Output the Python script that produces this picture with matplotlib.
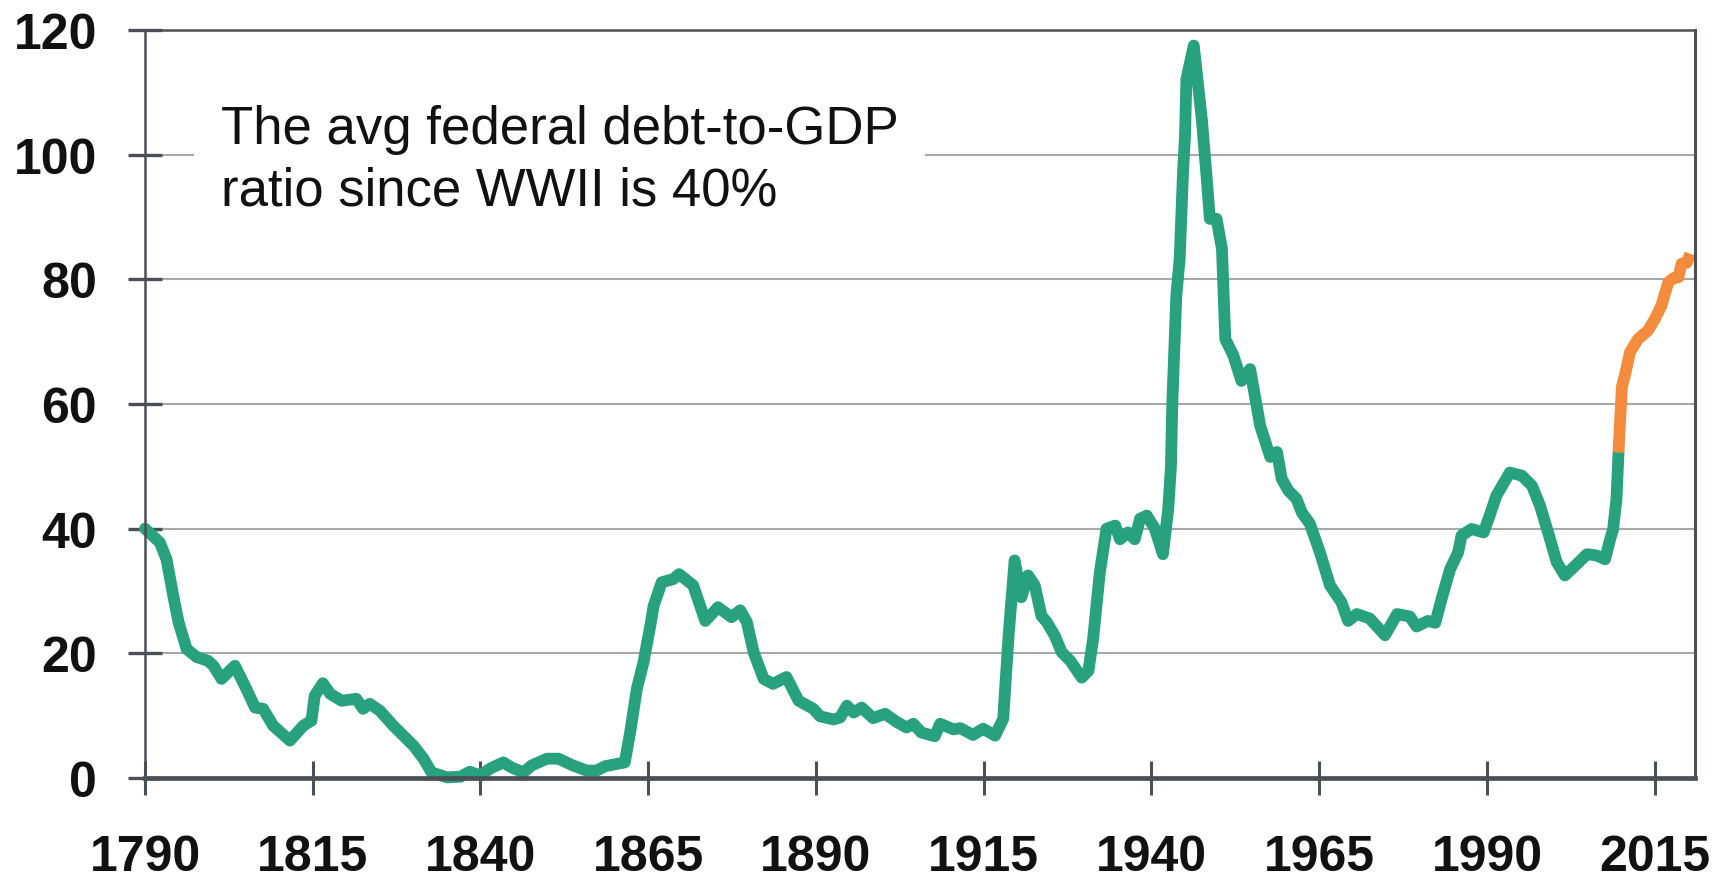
import matplotlib
matplotlib.use("Agg")
import matplotlib.pyplot as plt

plt.rcParams['font.family'] = ['Liberation Sans', 'DejaVu Sans']

# Historical federal debt-to-GDP (%)
hist_years = [1790, 1792.2, 1793.2, 1794.2, 1795, 1796.2, 1797.7, 1799.4, 1800.2, 1801.4,
              1803.4, 1805.1, 1806.4, 1807.6, 1809.1, 1811.6, 1813.6, 1814.8, 1815.3, 1816.5,
              1817.6, 1819.3, 1821.5, 1822.5, 1823.5, 1825, 1827, 1828.5, 1830, 1831.5,
              1832.7, 1835, 1837, 1838.4, 1840, 1841.4, 1843.4, 1844.6, 1846.4, 1847.6,
              1849.9, 1851.6, 1853.8, 1855.8, 1857.3, 1858.6, 1861.5, 1862.3, 1863.3, 1864.3,
              1865.3, 1865.8, 1867, 1868.7, 1869.6, 1871.7, 1873.5, 1875.4, 1877.4, 1878.7,
              1879.7, 1880.7, 1882.2, 1883.6, 1885.6, 1887.4, 1889.6, 1890.6, 1892.6, 1893.6,
              1894.6, 1895.6, 1896.8, 1898.5, 1900.3, 1902, 1903.5, 1904.5, 1905.7, 1907.7,
              1908.5, 1910.5, 1911.5, 1913.4, 1914.9, 1916.7, 1917.9, 1918.7, 1919.6, 1920.6,
              1921.6, 1922.6, 1923.6, 1924.4, 1925.6, 1926.6, 1927.9, 1929.6, 1930.6, 1931.3,
              1932.3, 1933.3, 1934.6, 1935.3, 1936.5, 1937.5, 1938.3, 1939.3, 1940.5, 1941.7,
              1942.5, 1942.9, 1943.1, 1943.7, 1944.2, 1944.7, 1945.0, 1945.2, 1946.3, 1947.5,
              1948.2, 1948.7, 1949.7, 1950.5, 1951, 1952.2, 1953.4, 1954.7, 1956.2, 1957.7,
              1958.7, 1959.4, 1960.4, 1961.6, 1962.4, 1963.6, 1965.1, 1966.6, 1968.3, 1969.3,
              1970.6, 1972.5, 1974.8, 1976.6, 1978.5, 1979.5, 1981.2, 1982.3, 1983.2, 1984.5,
              1985.7, 1986.2, 1987.7, 1989.5, 1990.4, 1991.4, 1993.4, 1995.2, 1996.7, 1997.9,
              1999.1, 2000.4, 2001.6, 2002.9, 2004.9, 2006.3, 2007.6, 2008.3, 2008.8, 2009.3,
              2009.6]
hist_values = [40, 37.8, 35.1, 29.3, 25, 20.7, 19.4, 18.8, 18, 15.9,
               18, 14.3, 11.3, 11.1, 8.4, 6.0, 8.4, 9.2, 13.2, 15.2,
               13.5, 12.4, 12.7, 11.1, 11.9, 10.8, 8.4, 6.8, 5.2, 3.1,
               0.9, 0.1, 0.2, 1.0, 0.4, 1.5, 2.5, 1.7, 0.9, 2.0,
               3.1, 3.1, 2.0, 1.2, 1.2, 1.9, 2.5, 7.3, 14.3, 18.6,
               24.4, 27.6, 31.4, 31.9, 32.7, 30.9, 25.2, 27.4, 25.8, 26.9,
               25.0, 20.2, 15.9, 15.1, 16.2, 12.4, 11.1, 9.9, 9.4, 9.7,
               11.6, 10.5, 11.3, 9.6, 10.3, 9.0, 8.1, 8.7, 7.3, 6.7,
               8.7, 7.8, 8.0, 6.9, 7.9, 6.8, 9.5, 22.8, 34.9, 29.0,
               32.5, 30.9, 26.0, 25.0, 22.8, 20.2, 18.8, 16.1, 17.2, 22.3,
               33, 40, 40.5, 38.3, 39.4, 38.3, 41.6, 42.1, 40, 35.9,
               43.2, 50, 60, 77.4, 83.3, 97.2, 103.1, 112.1, 117.5, 105.7,
               96.6, 89.7, 89.7, 84.9, 70.4, 67.8, 63.7, 65.6, 56.5, 51.5,
               52.3, 48, 46.1, 44.8, 42.6, 40.8, 36.2, 30.9, 28.2, 25.2,
               26.3, 25.6, 22.9, 26.3, 25.9, 24.3, 25.2, 24.9, 28.6, 33.5,
               36.2, 38.9, 39.95, 39.4, 42.1, 45.3, 49.0, 48.5, 46.9, 43.7,
               39.4, 34.6, 32.5, 33.8, 35.9, 35.7, 35.1, 38.1, 39.95, 44.8,
               52.2]

# Recent / projected segment (orange)
proj_years = [2009.6, 2009.8, 2010.1, 2010.6, 2011.3, 2012.5, 2014, 2015, 2016, 2017,
              2017.8, 2018.5, 2019, 2019.8, 2020.3]
proj_values = [52.2, 56.5, 62.7, 64.8, 68.3, 70.4, 71.8, 73.6, 75.8, 79.5,
               80.2, 80.3, 82.5, 82.7, 84.1]

x_ticks = [1790, 1815, 1840, 1865, 1890, 1915, 1940, 1965, 1990, 2015]
y_ticks = [0, 20, 40, 60, 80, 100, 120]
note = "The avg federal debt-to-GDP\nratio since WWII is 40%"

GREEN = "#27A17E"
ORANGE = "#F58B3C"
SPINE = "#4B5056"
GRID = "#A8A8A8"

fig = plt.figure(figsize=(17.31, 8.79), dpi=100)
ax = fig.add_axes([145 / 1731, 1 - 779 / 879, 1550 / 1731, 748 / 879])

ax.plot(hist_years, hist_values, color=GREEN, lw=8.5, solid_capstyle='round',
        solid_joinstyle='round', clip_on=False, zorder=2)
ax.plot(proj_years, proj_values, color=ORANGE, lw=8.5, solid_capstyle='butt',
        solid_joinstyle='round', clip_on=False, zorder=2)

ax.set_xlim(1790, 2021)
ax.set_ylim(0, 120)
ax.set_xticks(x_ticks)
ax.set_yticks(y_ticks)

ax.grid(axis='y', color=GRID, lw=1.5, zorder=0)
ax.set_axisbelow(True)

for side, w in [('left', 1.8), ('right', 2.2), ('top', 1.8), ('bottom', 3.4)]:
    ax.spines[side].set_color(SPINE)
    ax.spines[side].set_linewidth(w)

ax.tick_params(axis='x', direction='inout', length=25, width=2.2, color=SPINE,
               pad=28, labelsize=36)
ax.tick_params(axis='y', direction='inout', length=25, width=2.4, color=SPINE,
               pad=22, labelsize=36)
for lab in ax.get_xticklabels() + ax.get_yticklabels():
    lab.set_fontweight('bold')
    lab.set_color('#111111')

ax.text(1801.3, 92.05, note, fontsize=38, color='#111111', ha='left', va='baseline',
        linespacing=1.3, zorder=3,
        bbox=dict(boxstyle='square,pad=0.5', facecolor='white', edgecolor='none'))

fig.savefig("out.png", dpi=100)
